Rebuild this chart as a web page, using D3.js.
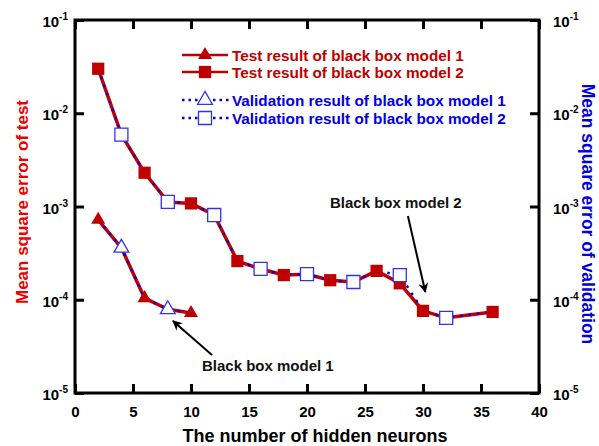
<!DOCTYPE html>
<html>
<head>
<meta charset="utf-8">
<script src="https://cdn.jsdelivr.net/npm/d3@7"></script>
<style>
  body { margin: 0; background: #fff; }
  svg { font-family: "Liberation Sans", Arial, sans-serif; font-weight: bold; }
</style>
</head>
<body>
<svg id="chart" width="599" height="446"></svg>
<script>
// Hidden neurons and errors
var neurons_m1 = [2, 4, 6, 8, 10];
var test_m1 = [0.00072, 0.00036, 0.000104, 0.000079, 0.000072];
var valid_m1 = [0.00072, 0.00036, 0.000104, 0.000079, 0.000072];
var validMarks_m1 = [4, 8];

var neurons_m2 = [2, 4, 6, 8, 10, 12, 14, 16, 18, 20, 22, 24, 26, 28, 30, 32, 36];
var test_m2 = [0.030, 0.0059, 0.0023, 0.00112, 0.00108, 0.00081, 0.00026, 0.000214, 0.000184,
               0.000188, 0.000162, 0.000155, 0.000204, 0.00015, 0.000076, 0.000064, 0.000074];
var valid_m2 = [0.030, 0.0059, 0.0023, 0.00112, 0.00108, 0.00081, 0.00026, 0.000214, 0.000184,
                0.000188, 0.000162, 0.000155, 0.000204, 0.000184, 0.000076, 0.000064, 0.000074];
var validMarks_m2 = [4, 8, 12, 16, 20, 24, 28, 32];

var xTicks = [0, 5, 10, 15, 20, 25, 30, 35, 40];
var yTicks = [1e-5, 1e-4, 1e-3, 1e-2, 1e-1];
var legendLabels = ['Test result of black box model 1', 'Test result of black box model 2',
                    'Validation result of black box model 1', 'Validation result of black box model 2'];

var red = '#c00000', blue = '#0000e0';
var svg = d3.select('#chart');
var margin = {left: 75, right: 539, top: 20, bottom: 393};

var x = d3.scaleLinear().domain([0, 40]).range([margin.left, margin.right]);
var y = d3.scaleLog().domain([1e-5, 1e-1]).range([margin.bottom, margin.top]);

// Axes with inward ticks
var axB = svg.append('g').attr('transform', 'translate(0,' + margin.bottom + ')')
    .call(d3.axisBottom(x).tickValues(xTicks).tickSize(-9).tickPadding(13));
var axT = svg.append('g').attr('transform', 'translate(0,' + margin.top + ')')
    .call(d3.axisTop(x).tickValues(xTicks).tickSize(-9).tickFormat(''));
var axL = svg.append('g').attr('transform', 'translate(' + margin.left + ',0)')
    .call(d3.axisLeft(y).tickValues(yTicks).tickSize(-9).tickFormat(''));
var axR = svg.append('g').attr('transform', 'translate(' + margin.right + ',0)')
    .call(d3.axisRight(y).tickValues(yTicks).tickSize(-9).tickFormat(''));
[axB, axT, axL, axR].forEach(function(a){
    a.select('.domain').remove();
    a.selectAll('line').attr('stroke', '#000').attr('stroke-width', 3);
});
axB.selectAll('text').attr('font-size', 15).attr('font-weight', 'bold')
    .attr('font-family', '"Liberation Sans", Arial, sans-serif').attr('fill', '#000');

svg.append('rect').attr('x', margin.left).attr('y', margin.top)
    .attr('width', margin.right - margin.left).attr('height', margin.bottom - margin.top)
    .attr('fill', 'none').attr('stroke', '#000').attr('stroke-width', 3);

// Power-of-ten labels on both sides
function powLabel(g, v, xp, anchor){
    var t = g.append('text').attr('x', xp).attr('y', y(v) + 7)
        .attr('text-anchor', anchor).attr('font-size', 15).attr('fill', '#000');
    t.append('tspan').text('10');
    t.append('tspan').attr('dy', -7).attr('font-size', 10).text(Math.round(Math.log10(v)));
}
var lbl = svg.append('g');
yTicks.forEach(function(v){
    powLabel(lbl, v, 68, 'end');
    powLabel(lbl, v, 553, 'start');
});

// Axis titles
svg.append('text').attr('transform', 'translate(28,202) rotate(-90)')
    .attr('text-anchor', 'middle').attr('font-size', 17).attr('fill', '#ee0000')
    .text('Mean square error of test');
svg.append('text').attr('transform', 'translate(582,214) rotate(90)')
    .attr('text-anchor', 'middle').attr('font-size', 17.5).attr('fill', blue)
    .text('Mean square error of validation');
svg.append('text').attr('x', 315).attr('y', 442)
    .attr('text-anchor', 'middle').attr('font-size', 18).attr('fill', '#000')
    .text('The number of hidden neurons');

// Markers
var tri = d3.symbol().type(d3.symbolTriangle).size(85);
var sq = d3.symbol().type(d3.symbolSquare).size(150);
var sqOpen = d3.symbol().type(d3.symbolSquare).size(170);
var triOpen = d3.symbol().type(d3.symbolTriangle).size(95);

function zip(xs, ys){ return xs.map(function(d, i){ return {x: d, y: ys[i]}; }); }
var line = d3.line().x(function(d){ return x(d.x) }).y(function(d){ return y(d.y) });

var plot = svg.append('g');
function drawSeries(xs, tv, vv, vmarks, filled, open){
    var td = zip(xs, tv), vd = zip(xs, vv);
    plot.append('path').datum(td).attr('d', line).attr('fill', 'none')
        .attr('stroke', red).attr('stroke-width', 3.5).attr('stroke-linejoin', 'round');
    plot.append('path').datum(vd).attr('d', line).attr('fill', 'none')
        .attr('stroke', blue).attr('stroke-width', 2.5).attr('stroke-dasharray', '2.5,6');
    plot.append('g').selectAll('path').data(td).enter().append('path')
        .attr('transform', function(d){ return 'translate(' + x(d.x) + ',' + y(d.y) + ')' })
        .attr('d', filled).attr('fill', red);
    plot.append('g').selectAll('path')
        .data(vd.filter(function(d){ return vmarks.indexOf(d.x) >= 0 }))
        .enter().append('path')
        .attr('transform', function(d){ return 'translate(' + x(d.x) + ',' + y(d.y) + ')' })
        .attr('d', open).attr('fill', '#fff').attr('stroke', '#3333ee').attr('stroke-width', 1.3);
}
drawSeries(neurons_m1, test_m1, valid_m1, validMarks_m1, tri, triOpen);
drawSeries(neurons_m2, test_m2, valid_m2, validMarks_m2, sq, sqOpen);

// Legend
var lg = svg.append('g');
var rows = [55, 72, 100, 118];
rows.forEach(function(ry, i){
    var isTest = i < 2;
    if (isTest){
        lg.append('line').attr('x1', 182).attr('x2', 228).attr('y1', ry).attr('y2', ry)
            .attr('stroke', red).attr('stroke-width', 2.5);
        lg.append('path').attr('transform', 'translate(205,' + ry + ')')
            .attr('d', i == 0 ? tri : sq).attr('fill', red);
    } else {
        lg.append('line').attr('x1', 182).attr('x2', 198).attr('y1', ry).attr('y2', ry)
            .attr('stroke', blue).attr('stroke-width', 2.5).attr('stroke-dasharray', '2.5,4');
        lg.append('line').attr('x1', 213).attr('x2', 229).attr('y1', ry).attr('y2', ry)
            .attr('stroke', blue).attr('stroke-width', 2.5).attr('stroke-dasharray', '2.5,4');
        lg.append('path').attr('transform', 'translate(205,' + ry + ')')
            .attr('d', i == 2 ? triOpen : sqOpen).attr('fill', '#fff')
            .attr('stroke', '#3333ee').attr('stroke-width', 1.3);
    }
    lg.append('text').attr('x', 232).attr('y', ry + 5.5).attr('font-size', 15.3)
        .attr('fill', isTest ? red : blue).text(legendLabels[i]);
});

// Annotations with arrows
svg.append('defs').append('marker').attr('id', 'arrow')
    .attr('viewBox', '0 0 10 10').attr('refX', 9).attr('refY', 5)
    .attr('markerWidth', 5).attr('markerHeight', 5).attr('orient', 'auto')
    .append('path').attr('d', 'M0,0 L10,5 L0,10 L3,5 Z').attr('fill', '#000');

svg.append('text').attr('x', 330).attr('y', 208).attr('font-size', 15).attr('fill', '#111')
    .text('Black box model 2');
svg.append('line').attr('x1', x(28.7)).attr('y1', 216).attr('x2', x(30.2)).attr('y2', 292)
    .attr('stroke', '#000').attr('stroke-width', 2).attr('marker-end', 'url(#arrow)');
svg.append('text').attr('x', 202).attr('y', 371).attr('font-size', 15).attr('fill', '#111')
    .text('Black box model 1');
svg.append('line').attr('x1', 212).attr('y1', 355).attr('x2', 173).attr('y2', 321)
    .attr('stroke', '#000').attr('stroke-width', 2).attr('marker-end', 'url(#arrow)');
</script>
</body>
</html>
